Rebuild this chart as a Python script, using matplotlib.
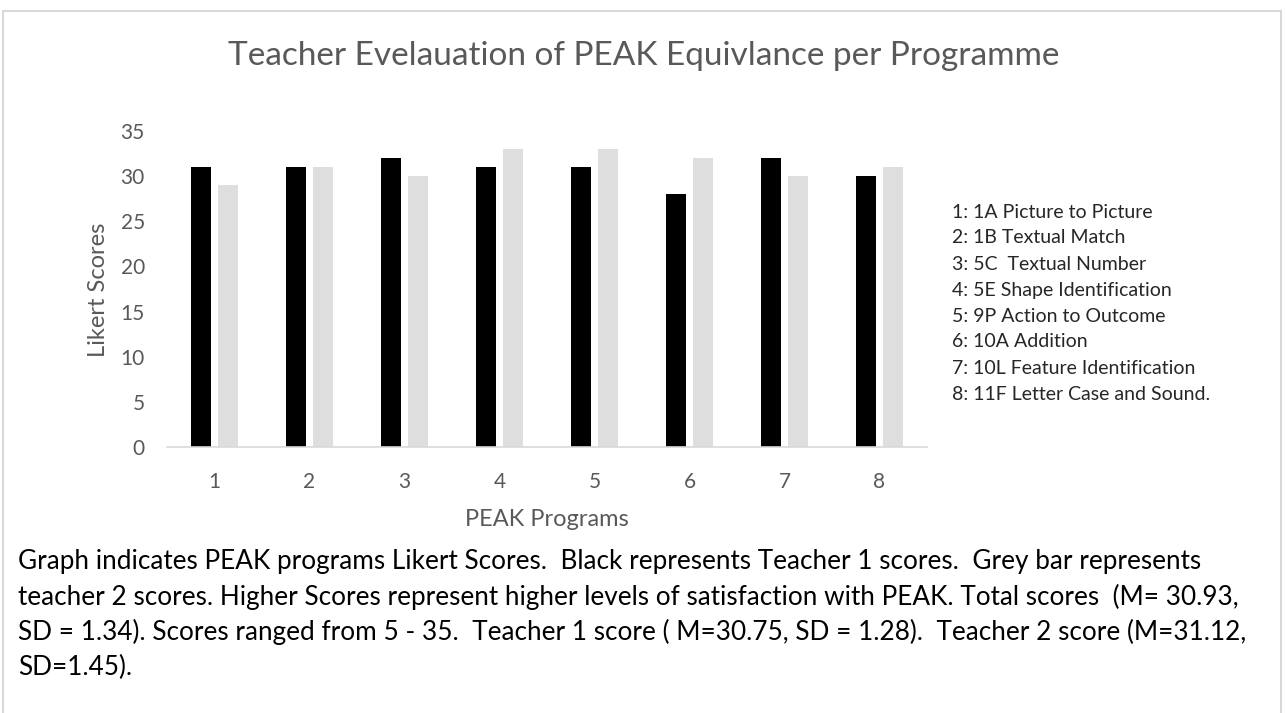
import matplotlib
matplotlib.use("Agg")
import matplotlib.pyplot as plt
import numpy as np
from matplotlib.patches import Rectangle

categories = ["1", "2", "3", "4", "5", "6", "7", "8"]
teacher1 = [31, 31, 32, 31, 31, 28, 32, 30]
teacher2 = [29, 31, 30, 33, 33, 32, 30, 31]
yticks = [0, 5, 10, 15, 20, 25, 30, 35]
programme_labels = [
    "1: 1A Picture to Picture",
    "2: 1B Textual Match",
    "3: 5C  Textual Number",
    "4: 5E Shape Identification",
    "5: 9P Action to Outcome",
    "6: 10A Addition",
    "7: 10L Feature Identification",
    "8: 11F Letter Case and Sound.",
]
title = "Teacher Evelauation of PEAK Equivlance per Programme"
caption_lines = [
    "Graph indicates PEAK programs Likert Scores.  Black represents Teacher 1 scores.  Grey bar represents",
    "teacher 2 scores. Higher Scores represent higher levels of satisfaction with PEAK. Total scores  (M= 30.93,",
    "SD = 1.34). Scores ranged from 5 - 35.  Teacher 1 score ( M=30.75, SD = 1.28).  Teacher 2 score (M=31.12,",
    "SD=1.45).",
]

W, H = 1285, 713
plt.rcParams['font.family'] = ['Lato', 'DejaVu Sans']
fig = plt.figure(figsize=(W / 100, H / 100), dpi=100)
fig.patch.set_facecolor("white")

# outer frame
fig.patches.append(Rectangle((3 / W, -0.05), (1281 - 3) / W, 1.05 - 11 / H,
                             transform=fig.transFigure, fill=False,
                             edgecolor="#d9d9d9", linewidth=1.5))

ax_l, ax_r, ax_b, ax_t = 167, 927, 447, 131
ax = fig.add_axes([ax_l / W, 1 - ax_b / H, (ax_r - ax_l) / W, (ax_b - ax_t) / H])

x = np.arange(len(categories))
bw = 0.215
ax.bar(x - 0.145, teacher1, width=bw, color="black")
ax.bar(x + 0.145, teacher2, width=bw, color="#dedede")

ax.set_xlim(-0.5, len(categories) - 0.5)
ax.set_ylim(0, 35)
ax.set_yticks(yticks)
ax.set_xticks(x)
ax.set_xticklabels(categories)
for s in ["top", "right", "left"]:
    ax.spines[s].set_visible(False)
ax.spines["bottom"].set_color("#d9d9d9")
ax.spines["bottom"].set_linewidth(1.2)
ax.tick_params(axis="both", length=0, labelsize=15, colors="#595959")
ax.tick_params(axis="y", pad=16)
ax.tick_params(axis="x", pad=18)

fig.text(98 / W, 1 - 290 / H, "Likert Scores", rotation=90, ha="center", va="center",
         fontsize=17, color="#595959")
fig.text(547 / W, 1 - 520 / H, "PEAK Programs", ha="center", va="center",
         fontsize=17, color="#595959")
fig.text(644 / W, 1 - 56 / H, title, ha="center", va="center", fontsize=24, color="#595959")

for i, lab in enumerate(programme_labels):
    fig.text(952 / W, 1 - (212 + i * 26) / H, lab, ha="left", va="center",
             fontsize=14, color="#262626")

for i, line in enumerate(caption_lines):
    fig.text(18 / W, 1 - (562 + i * 35) / H, line, ha="left", va="center",
             fontsize=18.8, color="black")

fig.savefig("out.png", dpi=100, facecolor="white")
